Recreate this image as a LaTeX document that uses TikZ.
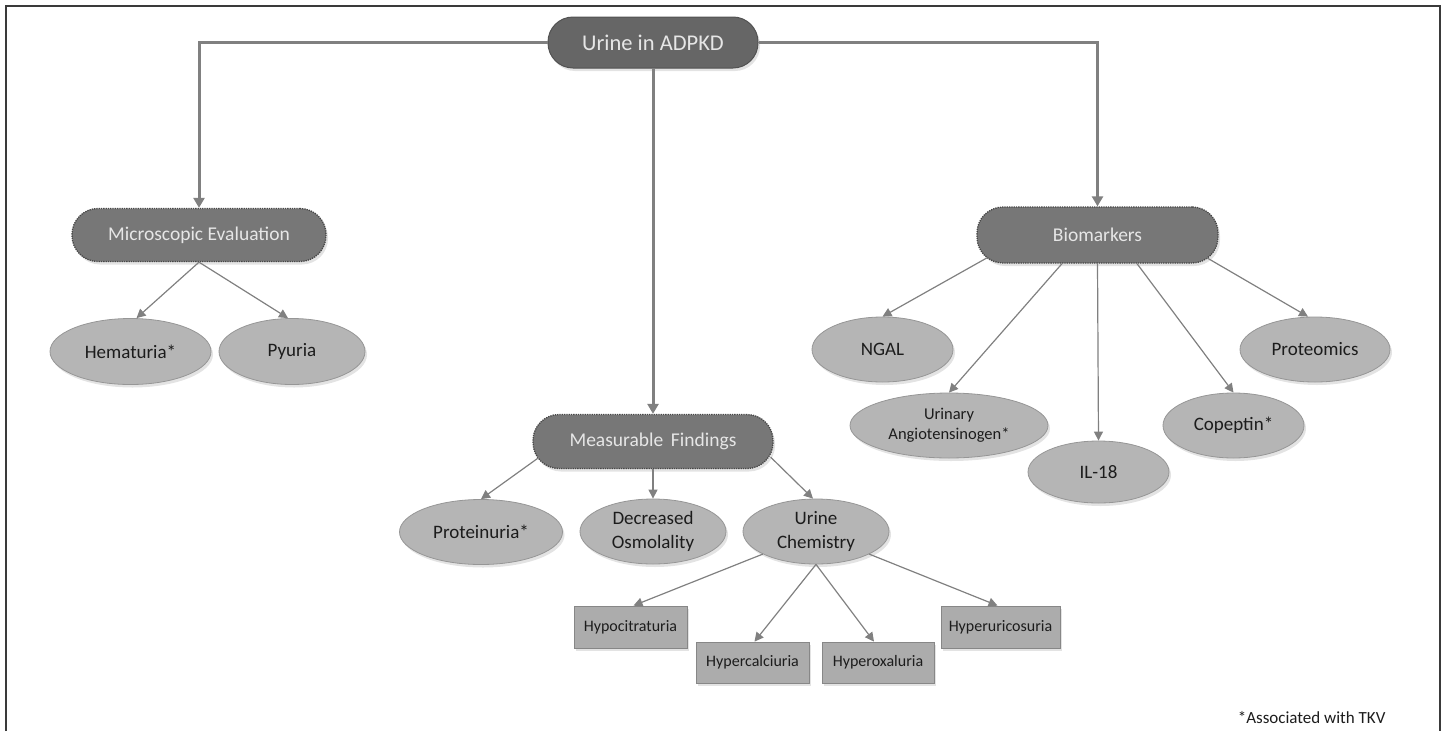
\documentclass[tikz,border=0pt]{standalone}
\usepackage{fontspec}
\setmainfont{Carlito}
\usetikzlibrary{arrows.meta, shapes.geometric, shadows}
\definecolor{rootfill}{HTML}{666666}
\definecolor{pillfill}{HTML}{777777}
\definecolor{pilledge}{HTML}{474747}
\definecolor{ovalfill}{HTML}{B5B5B5}
\definecolor{ovaledge}{HTML}{969696}
\definecolor{boxfill}{HTML}{ACACAC}
\definecolor{boxedge}{HTML}{878787}
\definecolor{linkgray}{HTML}{808080}
\definecolor{pilltext}{HTML}{E6E6E6}
\definecolor{inktext}{HTML}{1C1C1C}
\definecolor{framegray}{HTML}{3A3A3A}

\begin{document}
\begin{tikzpicture}[x=1pt, y=1pt,
  softshadow/.style={drop shadow={opacity=0.22, shadow xshift=2pt, shadow yshift=-3pt}},
  pill/.style={rectangle, rounded corners=26pt, inner sep=0pt, fill=pillfill,
    draw=pilledge, densely dotted, line width=1.3pt, text=pilltext,
    font=\fontsize{19.5}{22}\selectfont, softshadow},
  oval/.style={ellipse, inner sep=0pt, fill=ovalfill, draw=ovaledge,
    line width=0.8pt, text=inktext, align=center,
    font=\fontsize{19}{24}\selectfont, softshadow},
  tag/.style={rectangle, inner sep=0pt, fill=boxfill, draw=boxedge,
    line width=0.8pt, text=inktext, font=\fontsize{16}{19}\selectfont, softshadow},
  trunk/.style={-{Triangle[length=10pt, width=11pt]}, draw=linkgray, line width=3pt},
  link/.style={-{Triangle[length=9pt, width=9pt]}, draw=linkgray, line width=1.2pt},
]
\useasboundingbox (0,0) rectangle (1443,-731);

% Frame (open at the bottom)
\draw[framegray, line width=2pt] (6,-731) -- (6,-6) -- (1440,-6) -- (1440,-731);

% Root
\node[rectangle, rounded corners=25pt, inner sep=0pt, fill=rootfill,
  draw=rootfill!80!black, line width=1pt, text=pilltext,
  font=\fontsize{22.5}{26}\selectfont, softshadow,
  minimum width=210pt, minimum height=51pt] (root) at (653,-42.5) {Urine in ADPKD};

% Second level
\node[pill, minimum width=254pt, minimum height=53pt] (micro) at (199,-235) {Microscopic Evaluation};
\node[pill, minimum width=240pt, minimum height=54pt] (meas) at (653,-441.5) {Measurable \,Findings};
\node[pill, minimum width=241pt, minimum height=56pt] (bio) at (1097.5,-235) {Biomarkers};

% Microscopic evaluation
\node[oval, minimum width=161pt, minimum height=66pt] (hema) at (130.5,-351.5) {Hematuria*};
\node[oval, minimum width=146pt, minimum height=66pt] (pyur) at (292,-351.5) {Pyuria};

% Measurable findings
\node[oval, minimum width=163pt, minimum height=65pt] (prot) at (481,-532) {Proteinuria*};
\node[oval, minimum width=146pt, minimum height=65pt] (osmo) at (653,-531.5) {Decreased\\Osmolality};
\node[oval, minimum width=146pt, minimum height=65pt] (chem) at (816,-531.5) {Urine\\Chemistry};

% Urine chemistry
\node[tag, minimum width=113pt, minimum height=42pt] (citr) at (630.5,-627) {Hypocitraturia};
\node[tag, minimum width=113pt, minimum height=41pt] (calc) at (752.5,-662.5) {Hypercalciuria};
\node[tag, minimum width=112pt, minimum height=41pt] (oxal) at (878,-662.5) {Hyperoxaluria};
\node[tag, minimum width=119pt, minimum height=42pt] (uric) at (1000.5,-627) {Hyperuricosuria};

% Biomarkers
\node[oval, minimum width=141pt, minimum height=65pt] (ngal) at (882.5,-349.5) {NGAL};
\node[oval, minimum width=198pt, minimum height=65pt, font=\fontsize{16.5}{20}\selectfont] (agt) at (949,-425.5) {Urinary\\Angiotensinogen*};
\node[oval, minimum width=141pt, minimum height=62pt] (il18) at (1098.5,-472) {IL-18};
\node[oval, minimum width=141pt, minimum height=65pt] (cope) at (1233.5,-425.5) {Copeptin*};
\node[oval, minimum width=150pt, minimum height=65pt] (omic) at (1315,-349.5) {Proteomics};

% Footnote
\node[anchor=base east, text=inktext, font=\fontsize{17}{20}\selectfont] (note) at (1389,-723) {*Associated with TKV};

% Trunk connectors
\draw[trunk] (root.west) -| (micro.north);
\draw[trunk] (root.east) -| (bio.north);
\draw[trunk] (root.south) -- (meas.north);

% Branch connectors
\draw[link] (micro.south) -- ([xshift=6pt]hema.north);
\draw[link] (micro.south) -- ([xshift=-4pt]pyur.north);

\draw[link] ([shift={(7pt,12pt)}]meas.south west) -- (prot.north);
\draw[link] (meas.south) -- (osmo.north);
\draw[link] ([shift={(-3pt,12pt)}]meas.south east) -- ([xshift=-3pt]chem.north);

\draw[link] (chem.203) -- ([xshift=3pt]citr.north);
\draw[link] (chem.south) -- ([xshift=2pt]calc.north);
\draw[link] (chem.south) -- ([xshift=-4pt]oxal.north);
\draw[link] (chem.-23) -- ([xshift=-3pt]uric.north);

\draw[link] ([shift={(11pt,6pt)}]bio.south west) -- (ngal.north);
\draw[link] ([xshift=-35.5pt]bio.south) -- (agt.north);
\draw[link] (bio.south) -- (il18.north);
\draw[link] ([xshift=39.5pt]bio.south) -- (cope.north);
\draw[link] ([shift={(-12pt,6pt)}]bio.south east) -- ([xshift=-7pt]omic.north);

\end{tikzpicture}
\end{document}
